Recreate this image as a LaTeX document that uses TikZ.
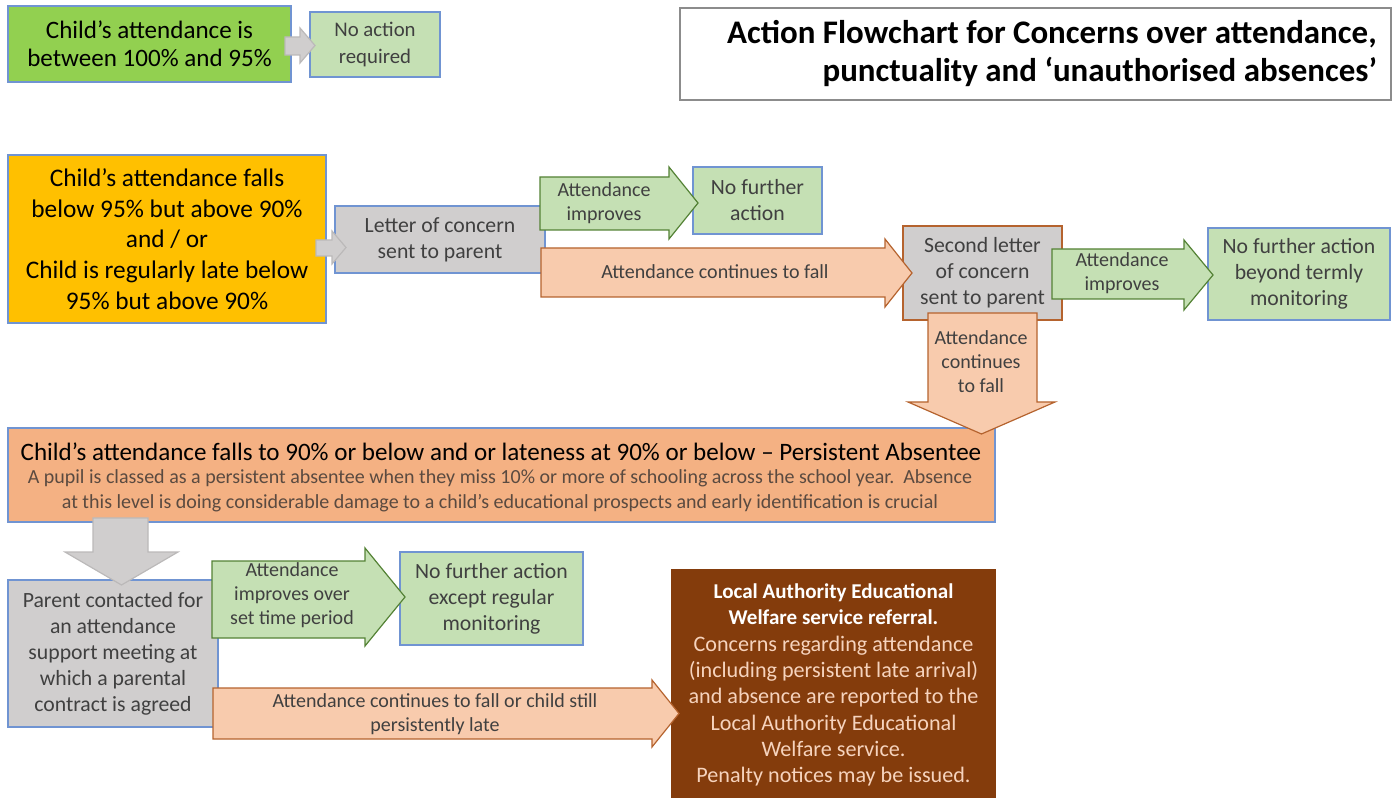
\documentclass[tikz,border=0pt]{standalone}
\usepackage{fontspec}
\setmainfont{Carlito}
\definecolor{bgreen}{HTML}{92D050}
\definecolor{lgreen}{HTML}{C5E0B4}
\definecolor{lgray}{HTML}{D0CECE}
\definecolor{gold}{HTML}{FFC000}
\definecolor{lsalmon}{HTML}{F8CBAD}
\definecolor{salmon}{HTML}{F4B183}
\definecolor{brownbox}{HTML}{843C0C}
\definecolor{bborder}{HTML}{7094D2}
\definecolor{gborder}{HTML}{548235}
\definecolor{sborder}{HTML}{B5632E}
\definecolor{txtgray}{HTML}{404040}
\definecolor{subtxt}{HTML}{5A4A40}
\definecolor{peach}{HTML}{F6D3BD}
\definecolor{titleborder}{HTML}{8C8C8C}
\newcommand\harr[8]{\filldraw[#1] (#2,#5) -- (#3,#5) -- (#3,#7) -- (#4,{(#7+#8)/2}) -- (#3,#8) -- (#3,#6) -- (#2,#6) -- cycle;}
\newcommand\varr[8]{\filldraw[#1] (#5,#2) -- (#5,#3) -- (#7,#3) -- ({(#7+#8)/2},#4) -- (#8,#3) -- (#6,#3) -- (#6,#2) -- cycle;}
\newcommand\bbox[7]{\node[#1, minimum width={(#5-#3)*0.75pt}, minimum height={(#6-#4)*0.75pt}] (#2) at ({(#3+#5)/2},{(#4+#6)/2}) {#7};}
\tikzset{
  box/.style={draw=bborder, line width=0.9pt, inner sep=0pt, align=center},
  arrowshape/.style={line width=0.9pt, line join=miter},
  garrow/.style={arrowshape, fill=lgreen, draw=gborder},
  sarrow/.style={arrowshape, fill=lsalmon, draw=sborder},
  grayarrow/.style={arrowshape, fill=lgray, draw=lgray!90!black},
  lbl/.style={text=txtgray, align=center, font=\fontsize{15}{18}\selectfont, inner sep=0pt},
  boxfont/.style={font=\fontsize{16.3}{19.5}\selectfont},
}
\begin{document}
\begin{tikzpicture}[x=0.75pt,y=-0.75pt]
\useasboundingbox (0,0) rectangle (1393,798);
% boxes
\bbox{box, fill=bgreen, font=\fontsize{18.8}{21}\selectfont}{g1}{8}{6}{291}{82}{Child’s attendance is\\between 100\% and 95\%}
\bbox{box, fill=lgreen, text=txtgray, font=\fontsize{15.6}{20}\selectfont}{na}{310}{12}{440}{77}{No action\\required}
\bbox{box, draw=titleborder, fill=white}{tbox}{680}{8}{1391}{100}{}
\node[anchor=east, align=right, inner sep=0pt, font=\bfseries\fontsize{24.7}{28.5}\selectfont] (title) at (1377,54) {Action Flowchart for Concerns over attendance,\\punctuality and ‘unauthorised absences’};
\bbox{box, fill=gold, font=\fontsize{19}{23}\selectfont}{o1}{8}{155}{326}{323}{Child’s attendance falls\\below 95\% but above 90\%\\and / or\\Child is regularly late below\\95\% but above 90\%}
\bbox{box, fill=lgray, text=txtgray, boxfont}{let1}{335}{206}{545}{273}{Letter of concern\\sent to parent}
\bbox{box, fill=lgreen, text=txtgray, boxfont}{nfa1}{693}{167}{822}{234}{No further\\action}
\bbox{box, fill=lgray, draw=sborder, text=txtgray, boxfont}{sl}{903}{226}{1062}{320}{Second letter\\of concern\\sent to parent}
\bbox{box, fill=lgreen, text=txtgray, boxfont}{nfa2}{1208}{228}{1390}{320}{No further action\\beyond termly\\monitoring}
\bbox{box, fill=salmon}{pa}{8}{428}{995}{522}{}
\node[inner sep=0pt, font=\fontsize{18.8}{20}\selectfont] (patitle) at (501,452) {Child’s attendance falls to 90\% or below and or lateness at 90\% or below – Persistent Absentee};
\node[inner sep=0pt, text=subtxt, font=\fontsize{15}{18}\selectfont] (pasub1) at (500,478) {A pupil is classed as a persistent absentee when they miss 10\% or more of schooling across the school year.\ \ Absence};
\node[inner sep=0pt, text=subtxt, font=\fontsize{15}{18}\selectfont] (pasub2) at (500,503) {at this level is doing considerable damage to a child’s educational prospects and early identification is crucial};
\bbox{box, fill=lgray, text=txtgray, boxfont}{pc}{8}{580}{218}{727}{Parent contacted for\\an attendance\\support meeting at\\which a parental\\contract is agreed}
\bbox{box, fill=lgreen, text=txtgray, boxfont}{nfa3}{400}{552}{583}{645}{No further action\\except regular\\monitoring}
\bbox{box, fill=brownbox, draw=brownbox, text=peach, font=\fontsize{16.6}{19.7}\selectfont}{la}{672}{570}{995}{800}{\textcolor{white}{\bfseries\fontsize{15.8}{19.7}\selectfont Local Authority Educational}\\\textcolor{white}{\bfseries\fontsize{15.8}{19.7}\selectfont Welfare service referral.}\\Concerns regarding attendance\\(including persistent late arrival)\\and absence are reported to the\\Local Authority Educational\\Welfare service.\\Penalty notices may be issued.}
% arrows
\harr{grayarrow}{285}{300}{315}{37}{55}{28}{63}
\harr{grayarrow}{316}{332}{346}{240}{256}{231}{264}
\harr{garrow}{540}{669}{698}{177}{230}{167}{239}
\node[lbl] (a1) at (604,203) {Attendance\\improves};
\harr{sarrow}{541}{885}{912}{248}{297}{239}{307}
\node[lbl] (a2) at (715,272) {Attendance continues to fall};
\harr{garrow}{1052}{1184}{1213}{249}{299}{240}{310}
\node[lbl] (a3) at (1122,273) {Attendance\\improves};
\varr{sarrow}{313}{402}{434}{928}{1037}{908}{1055}
\node[lbl] (a4) at (981,362) {Attendance\\continues\\to fall};
\varr{grayarrow}{518}{552}{585}{93}{148}{65}{178}
\harr{garrow}{212}{365}{405}{561}{638}{548}{646}
\node[lbl] (a5) at (292,595) {Attendance\\improves over\\set time period};
\harr{sarrow}{213}{652}{679}{688}{739}{680}{747}
\node[lbl] (a6) at (435,714) {Attendance continues to fall or child still\\persistently late};
\end{tikzpicture}
\end{document}
